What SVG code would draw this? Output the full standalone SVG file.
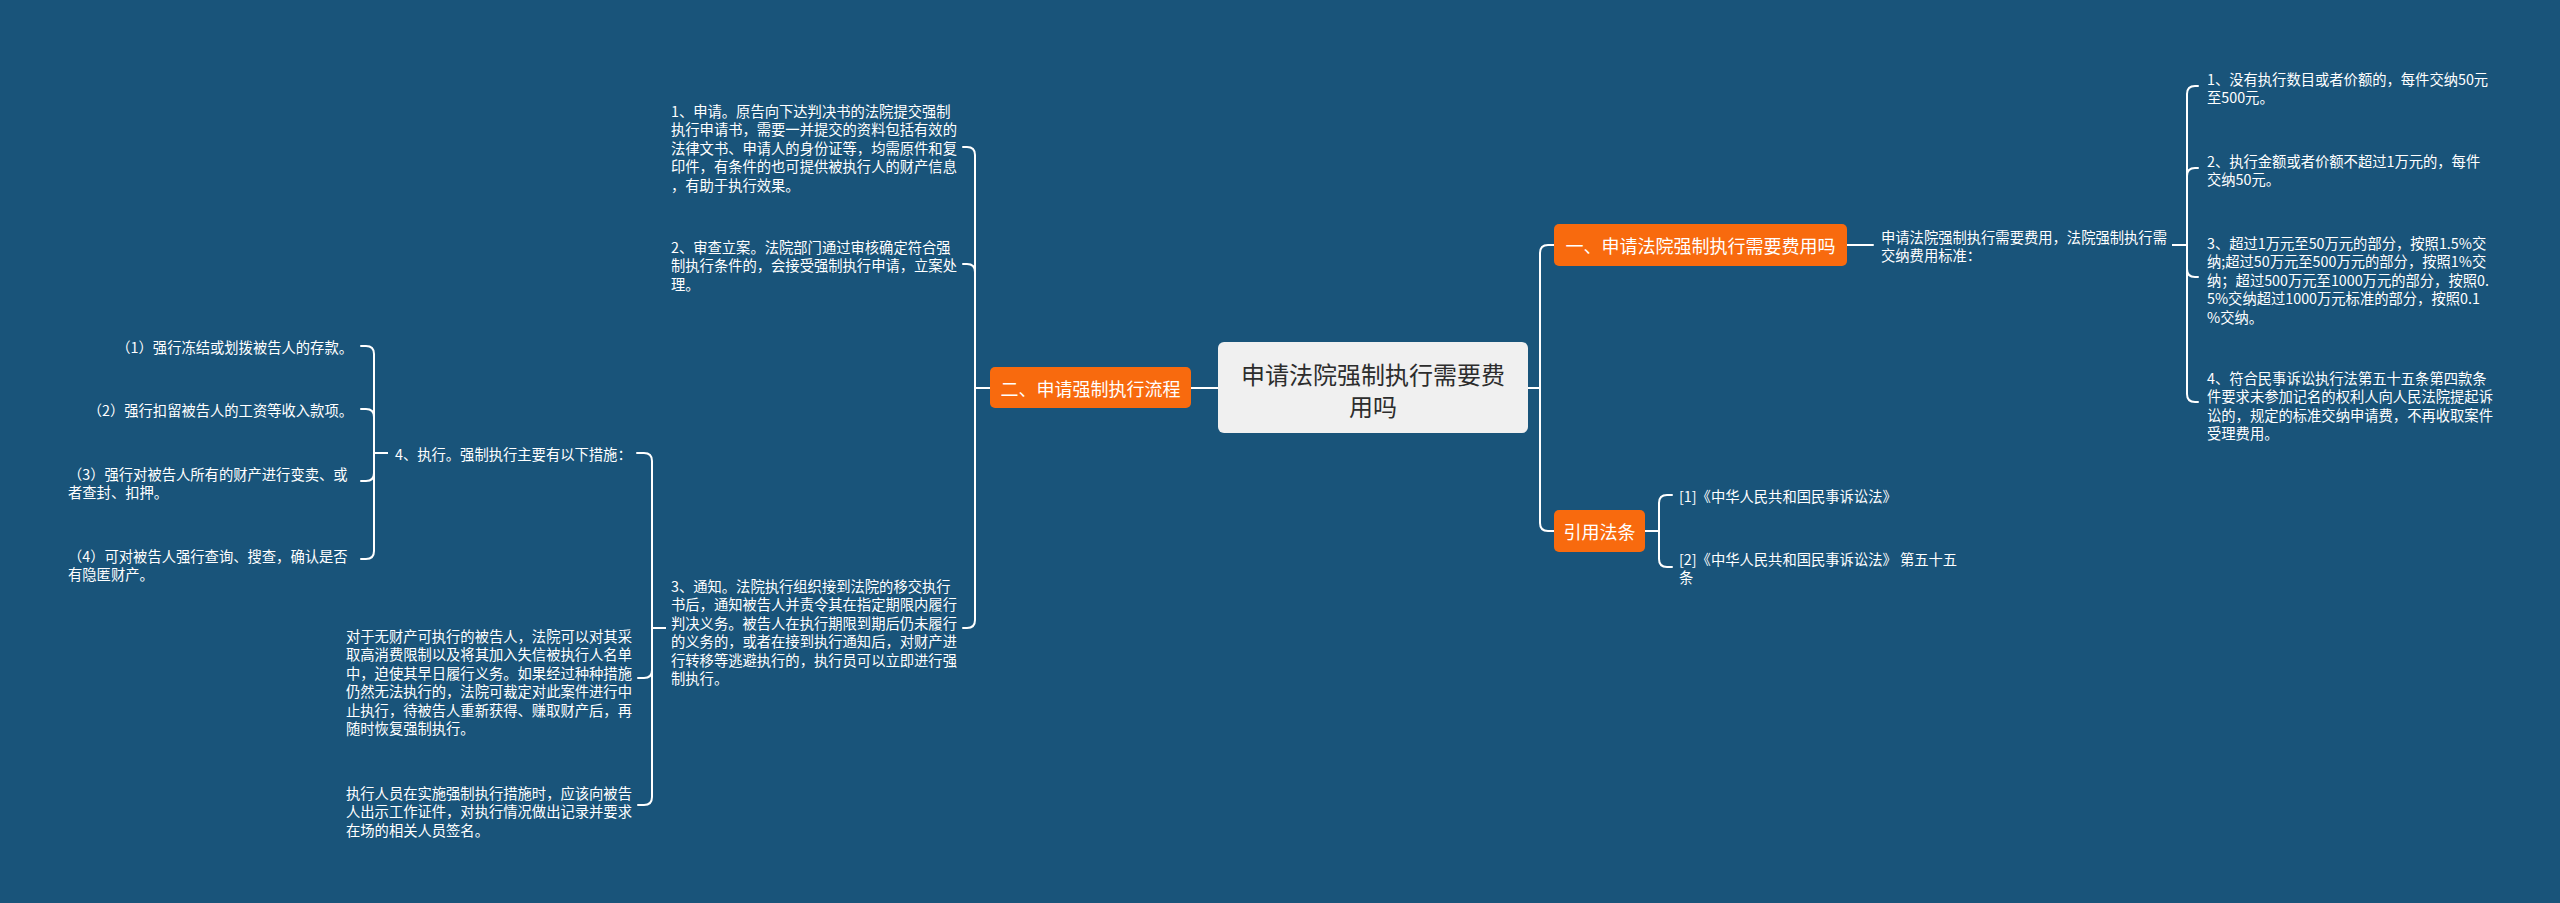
<svg xmlns="http://www.w3.org/2000/svg" width="2560" height="903" viewBox="0 0 2560 903">
<style>
text{font-family:"Noto Sans CJK SC","Noto Sans",sans-serif;dominant-baseline:central;}
.leaf{font-size:14.3px;fill:#ffffff;}
.end{text-anchor:end;}
.box{fill:#f86a0e;}
.boxt{font-size:18px;fill:#ffffff;text-anchor:middle;}
.root{fill:#f0f0f0;}
.roott{font-size:24px;fill:#2d2d2d;text-anchor:middle;}
.conn path{fill:none;stroke:#ffffff;stroke-width:2;stroke-linecap:round;stroke-linejoin:round;}
</style>
<rect x="0" y="0" width="2560" height="903" fill="#19547a"/>
<g class="conn" id="connectors">
<path d="M1218,388 H1191"/>
<path d="M1528,388 H1540 V253 Q1540,245 1548,245 H1554"/>
<path d="M1528,388 H1540 V523 Q1540,531 1548,531 H1554"/>
<path d="M1847,245 H1873"/>
<path d="M2173,245 H2187 V94 Q2187,86 2195,86 H2198"/>
<path d="M2173,245 H2187 V176 Q2187,168 2195,168 H2198"/>
<path d="M2173,245 H2187 V269 Q2187,277 2195,277 H2198"/>
<path d="M2173,245 H2187 V394 Q2187,402 2195,402 H2198"/>
<path d="M1645,531 H1659 V503 Q1659,495 1667,495 H1672"/>
<path d="M1645,531 H1659 V559 Q1659,567 1667,567 H1672"/>
<path d="M990,388 H975 V155 Q975,147 967,147 H963"/>
<path d="M990,388 H975 V272 Q975,264 967,264 H963"/>
<path d="M990,388 H975 V620 Q975,628 967,628 H963"/>
<path d="M665,628 H652 V461 Q652,453 644,453 H637"/>
<path d="M665,628 H652 V670 Q652,678 644,678 H638"/>
<path d="M665,628 H652 V797 Q652,805 644,805 H638"/>
<path d="M387,453 H374 V354 Q374,346 366,346 H361"/>
<path d="M387,453 H374 V417 Q374,409 366,409 H361"/>
<path d="M387,453 H374 V473 Q374,481 366,481 H361"/>
<path d="M387,453 H374 V551 Q374,559 366,559 H361"/>
</g>
<g id="root">
<rect class="root" x="1218" y="342" width="310" height="91" rx="6"/>
<text class="roott" x="1373" y="373">申请法院强制执行需要费</text>
<text class="roott" x="1373" y="405">用吗</text>
</g>
<g id="n-fee">
<rect class="box" x="1554" y="224" width="293" height="42" rx="5"/>
<text class="boxt" x="1700.5" y="245">一、申请法院强制执行需要费用吗</text>
</g>
<g id="n-law">
<rect class="box" x="1554" y="510" width="91" height="42" rx="5"/>
<text class="boxt" x="1599.5" y="531">引用法条</text>
</g>
<g id="n-flow">
<rect class="box" x="990" y="367" width="201" height="41" rx="5"/>
<text class="boxt" x="1090.5" y="388">二、申请强制执行流程</text>
</g>
<g id="n-fee-std" class="leaf">
<text x="1881" y="236">申请法院强制执行需要费用，法院强制执行需</text>
<text x="1881" y="254.5">交纳费用标准：</text>
</g>
<g id="n-fee-1" class="leaf">
<text x="2207" y="78">1、没有执行数目或者价额的，每件交纳50元</text>
<text x="2207" y="96.5">至500元。</text>
</g>
<g id="n-fee-2" class="leaf">
<text x="2207" y="160">2、执行金额或者价额不超过1万元的，每件</text>
<text x="2207" y="178.5">交纳50元。</text>
</g>
<g id="n-fee-3" class="leaf">
<text x="2207" y="242">3、超过1万元至50万元的部分，按照1.5%交</text>
<text x="2207" y="260.5">纳;超过50万元至500万元的部分，按照1%交</text>
<text x="2207" y="279">纳；超过500万元至1000万元的部分，按照0.</text>
<text x="2207" y="297.5">5%交纳超过1000万元标准的部分，按照0.1</text>
<text x="2207" y="316">%交纳。</text>
</g>
<g id="n-fee-4" class="leaf">
<text x="2207" y="377">4、符合民事诉讼执行法第五十五条第四款条</text>
<text x="2207" y="395.5">件要求未参加记名的权利人向人民法院提起诉</text>
<text x="2207" y="414">讼的，规定的标准交纳申请费，不再收取案件</text>
<text x="2207" y="432.5">受理费用。</text>
</g>
<g id="n-law-1" class="leaf">
<text x="1679" y="495">[1]《中华人民共和国民事诉讼法》</text>
</g>
<g id="n-law-2" class="leaf">
<text x="1679" y="558">[2]《中华人民共和国民事诉讼法》 第五十五</text>
<text x="1679" y="576.5">条</text>
</g>
<g id="n-step-1" class="leaf">
<text x="671" y="110">1、申请。原告向下达判决书的法院提交强制</text>
<text x="671" y="128.5">执行申请书，需要一并提交的资料包括有效的</text>
<text x="671" y="147">法律文书、申请人的身份证等，均需原件和复</text>
<text x="671" y="165.5">印件，有条件的也可提供被执行人的财产信息</text>
<text x="671" y="184">，有助于执行效果。</text>
</g>
<g id="n-step-2" class="leaf">
<text x="671" y="246">2、审查立案。法院部门通过审核确定符合强</text>
<text x="671" y="264.5">制执行条件的，会接受强制执行申请，立案处</text>
<text x="671" y="283">理。</text>
</g>
<g id="n-step-3" class="leaf">
<text x="671" y="585">3、通知。法院执行组织接到法院的移交执行</text>
<text x="671" y="603.5">书后，通知被告人并责令其在指定期限内履行</text>
<text x="671" y="622">判决义务。被告人在执行期限到期后仍未履行</text>
<text x="671" y="640.5">的义务的，或者在接到执行通知后，对财产进</text>
<text x="671" y="659">行转移等逃避执行的，执行员可以立即进行强</text>
<text x="671" y="677.5">制执行。</text>
</g>
<g id="n-step-4" class="leaf">
<text x="395" y="453">4、执行。强制执行主要有以下措施：</text>
</g>
<g id="n-m1" class="leaf">
<text class="end" x="353" y="346">（1）强行冻结或划拨被告人的存款。</text>
</g>
<g id="n-m2" class="leaf">
<text class="end" x="353" y="409">（2）强行扣留被告人的工资等收入款项。</text>
</g>
<g id="n-m3" class="leaf">
<text x="68" y="473">（3）强行对被告人所有的财产进行变卖、或</text>
<text x="68" y="491.5">者查封、扣押。</text>
</g>
<g id="n-m4" class="leaf">
<text x="68" y="555">（4）可对被告人强行查询、搜查，确认是否</text>
<text x="68" y="573.5">有隐匿财产。</text>
</g>
<g id="n-noprop" class="leaf">
<text x="346" y="635">对于无财产可执行的被告人，法院可以对其采</text>
<text x="346" y="653.5">取高消费限制以及将其加入失信被执行人名单</text>
<text x="346" y="672">中，迫使其早日履行义务。如果经过种种措施</text>
<text x="346" y="690.5">仍然无法执行的，法院可裁定对此案件进行中</text>
<text x="346" y="709">止执行，待被告人重新获得、赚取财产后，再</text>
<text x="346" y="727.5">随时恢复强制执行。</text>
</g>
<g id="n-staff" class="leaf">
<text x="346" y="792">执行人员在实施强制执行措施时，应该向被告</text>
<text x="346" y="810.5">人出示工作证件，对执行情况做出记录并要求</text>
<text x="346" y="829">在场的相关人员签名。</text>
</g>
</svg>
